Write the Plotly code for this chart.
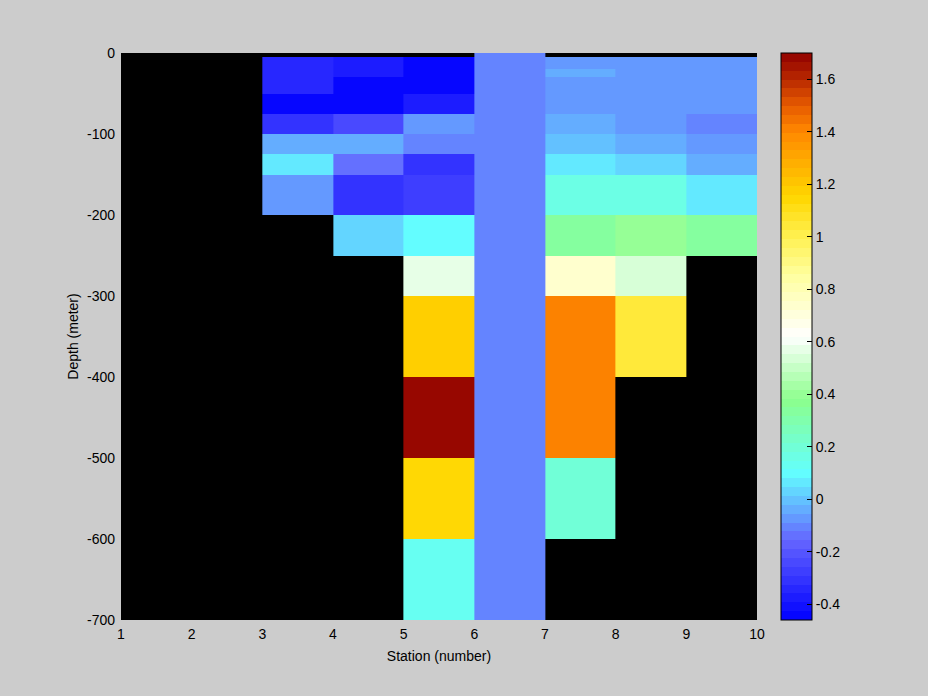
import plotly.graph_objects as go

# ---- data ----
station_edges = [3, 4, 5, 6, 7, 8, 9, 10]
depth_edges = [0, -5, -20, -30, -50, -75, -100, -125, -150, -200, -250, -300, -400, -500, -600, -700]

N = None
st3 = [N, -0.35, -0.35, -0.35, -0.43, -0.32, -0.03, 0.075, -0.086, N, N, N, N, N, N]
st4 = [N, -0.38, -0.38, -0.43, -0.45, -0.24, -0.035, -0.125, -0.32, 0.038, N, N, N, N, N]
st5 = [N, -0.45, -0.45, -0.45, -0.36, -0.06, -0.093, -0.32, -0.28, 0.10, 0.57, 1.17, 1.68, 1.14, 0.14]
st6 = [-0.12] * 15
st7 = [N, -0.06, -0.033, -0.06, -0.06, -0.033, 0.003, 0.075, 0.15, 0.35, 0.75, 1.40, 1.42, 0.20, N]
st8 = [N, -0.065, -0.065, -0.065, -0.065, -0.06, -0.035, 0.04, 0.15, 0.41, 0.53, 1.05, N, N, N]
st9 = [N, -0.086, -0.086, -0.086, -0.086, -0.12, -0.086, -0.033, 0.075, 0.35, N, N, N, N, N]
columns = [st3, st4, st5, st6, st7, st8, st9]

cmin, cmax = -0.46, 1.70

x_ticks = list(range(1, 11))
y_ticks = [0, -100, -200, -300, -400, -500, -600, -700]
y_ticklabels = ["0", "-100", "-200", "-300", "-400", "-500", "-600", "-700"]
cb_ticks = [-0.4, -0.2, 0, 0.2, 0.4, 0.6, 0.8, 1.0, 1.2, 1.4, 1.6]
cb_ticklabels = ["-0.4", "-0.2", "0", "0.2", "0.4", "0.6", "0.8", "1", "1.2", "1.4", "1.6"]

# colormap anchors (value, rgb)
anchors = [
    (-0.46, (0, 0, 255)),
    (-0.16, (100, 100, 255)),
    (0.10, (99, 255, 255)),
    (0.38, (140, 255, 140)),
    (0.62, (255, 255, 255)),
    (0.85, (255, 255, 160)),
    (1.00, (255, 240, 80)),
    (1.15, (255, 215, 0)),
    (1.40, (255, 136, 0)),
    (1.50, (230, 90, 0)),
    (1.60, (184, 40, 0)),
    (1.70, (144, 0, 0)),
]

def cmap(v):
    for (v0, c0), (v1, c1) in zip(anchors[:-1], anchors[1:]):
        if v <= v1:
            t = max(0.0, (v - v0) / (v1 - v0))
            return tuple(round(a + (b - a) * t) for a, b in zip(c0, c1))
    return anchors[-1][1]

nlev = 64
colorscale = []
for i in range(nlev):
    v = cmin + (i + 0.5) / nlev * (cmax - cmin)
    r, g, b = cmap(v)
    c = f"rgb({r},{g},{b})"
    colorscale.append([i / nlev, c])
    colorscale.append([(i + 1) / nlev, c])

# z[row][col]
z = [[col[r] for col in columns] for r in range(len(depth_edges) - 1)]

plot_w = 636
cb_left = (781 - 121) / plot_w

fig = go.Figure(go.Heatmap(
    x=station_edges,
    y=depth_edges,
    z=z,
    zmin=cmin,
    zmax=cmax,
    colorscale=colorscale,
    zsmooth=False,
    hoverongaps=False,
    colorbar=dict(
        x=cb_left,
        xanchor="left",
        y=0.5,
        yanchor="middle",
        len=1,
        lenmode="fraction",
        thickness=31,
        xpad=0,
        ypad=0,
        outlinewidth=1,
        outlinecolor="black",
        tickvals=cb_ticks,
        ticktext=cb_ticklabels,
        ticks="inside",
        ticklen=5,
        tickcolor="black",
        tickfont=dict(size=14, color="black", family="Liberation Sans"),
    ),
))

# left-side tick marks on the colorbar (MATLAB draws ticks on both edges)
for tv in cb_ticks:
    yp = (tv - cmin) / (cmax - cmin)
    fig.add_shape(
        type="line", xref="paper", yref="paper",
        x0=cb_left + 1 / plot_w, x1=cb_left + 6 / plot_w, y0=yp, y1=yp,
        line=dict(color="black", width=1),
    )

fig.update_layout(
    width=928,
    height=696,
    margin=dict(l=121, r=171, t=53, b=76),
    paper_bgcolor="#CCCCCC",
    plot_bgcolor="black",
    font=dict(family="Liberation Sans", size=14, color="black"),
    showlegend=False,
)
fig.update_xaxes(
    range=[1, 10],
    tickvals=x_ticks,
    ticktext=[str(v) for v in x_ticks],
    showgrid=False,
    zeroline=False,
    showline=False,
    ticks="",
    ticklabelstandoff=4,
    title=dict(text="Station (number)", font=dict(size=14), standoff=10),
)
fig.update_yaxes(
    range=[-700, 0],
    tickvals=y_ticks,
    ticktext=y_ticklabels,
    showgrid=False,
    zeroline=False,
    showline=False,
    ticks="",
    ticklabelstandoff=5,
    title=dict(text="Depth (meter)", font=dict(size=14), standoff=5),
)

fig.write_html(
    "out.html",
    config={"displayModeBar": False},
    post_script="document.body.style.margin='0';document.body.style.padding='0';",
)
